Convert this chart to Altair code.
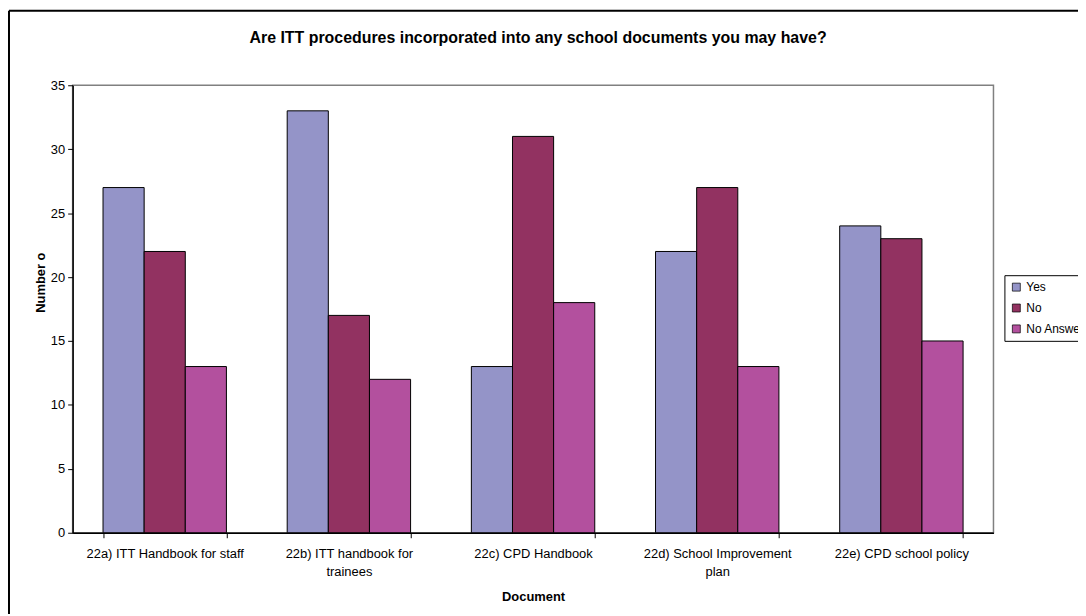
import altair as alt
import pandas as pd

documents = [
    "22a) ITT Handbook for staff",
    "22b) ITT handbook for trainees",
    "22c) CPD Handbook",
    "22d) School Improvement plan",
    "22e) CPD school policy",
]
series = ["Yes", "No", "No Answer"]
yes_values = [27, 33, 13, 22, 24]
no_values = [22, 17, 31, 27, 23]
no_answer_values = [13, 12, 18, 13, 15]
colors = ["#9494C8", "#923261", "#B3509E"]
y_ticks = [0, 5, 10, 15, 20, 25, 30, 35]
chart_title = "Are ITT procedures incorporated into any school documents you may have?"

rows = []
for i, d in enumerate(documents):
    for s, vals in zip(series, [yes_values, no_values, no_answer_values]):
        rows.append({"Document": d, "Response": s, "Count": vals[i]})
df = pd.DataFrame(rows)

FONT = "Liberation Sans"
W, H = 926, 450

label_expr = (
    "datum.label == '22b) ITT handbook for trainees' ? ['22b) ITT handbook for', 'trainees'] : "
    "datum.label == '22d) School Improvement plan' ? ['22d) School Improvement', 'plan'] : datum.label"
)

bars = alt.Chart(df).mark_bar(stroke="black", strokeWidth=1).encode(
    x=alt.X(
        "Document:N",
        sort=documents,
        scale=alt.Scale(paddingInner=0.33, paddingOuter=0.165),
        axis=alt.Axis(
            title="Document",
            labelAngle=0,
            labelExpr=label_expr,
            labelFontSize=13,
            labelLineHeight=18,
            labelPadding=10,
            labelBaseline="top",
            tickBand="extent",
            tickSize=5,
            titleFontSize=13,
            titleFontWeight="bold",
            titleY=64,
            titleBaseline="middle",
        ),
    ),
    xOffset=alt.XOffset("Response:N", sort=series, scale=alt.Scale(paddingInner=0, paddingOuter=0)),
    y=alt.Y(
        "Count:Q",
        scale=alt.Scale(domain=[0, 35], nice=False),
        axis=alt.Axis(
            values=y_ticks,
            title="Number o",
            grid=False,
            labelFontSize=13,
            labelPadding=3,
            tickSize=5,
            titleFontSize=13,
            titleFontWeight="bold",
            titleX=-32,
            titleY=198,
            titleBaseline="middle",
        ),
    ),
    color=alt.Color(
        "Response:N",
        sort=series,
        scale=alt.Scale(domain=series, range=colors),
        legend=alt.Legend(
            title=None,
            orient="none",
            legendX=937,
            legendY=191,
            symbolType="square",
            symbolSize=64,
            symbolStrokeColor="black",
            symbolStrokeWidth=0.7,
            labelFontSize=12,
            labelFont=FONT,
            labelColor="black",
            rowPadding=9,
            padding=6,
            strokeColor="black",
            fillColor="white",
            labelOffset=4,
        ),
    ),
)

one_row = alt.Data(values=[{"k": 1}])
frame_left = alt.Chart(one_row).mark_rule(color="black", strokeWidth=2).encode(
    x=alt.value(-64), y=alt.value(-75), y2=alt.value(560)
)
frame_top = alt.Chart(one_row).mark_rule(color="black", strokeWidth=2).encode(
    y=alt.value(-75), x=alt.value(-64), x2=alt.value(1100)
)
title_text = alt.Chart(one_row).mark_text(
    font=FONT, fontSize=16, fontWeight="bold", color="black", align="center", baseline="alphabetic"
).encode(x=alt.value(W / 2 + 5), y=alt.value(-43), text=alt.value(chart_title))

chart = (
    alt.layer(frame_left, frame_top, title_text, bars)
    .properties(
        width=W,
        height=H,
        padding={"left": 65, "top": 76, "right": 85, "bottom": 80},
        autosize=alt.AutoSizeParams(type="none"),
        background="white",
    )
    .configure_view(stroke="#808080", strokeWidth=1.5)
    .configure_axis(
        domainColor="black",
        domainWidth=1.5,
        tickColor="black",
        labelColor="black",
        titleColor="black",
        labelFont=FONT,
        titleFont=FONT,
    )
)

chart.save("out.html", embed_options={"renderer": "svg", "actions": False})
